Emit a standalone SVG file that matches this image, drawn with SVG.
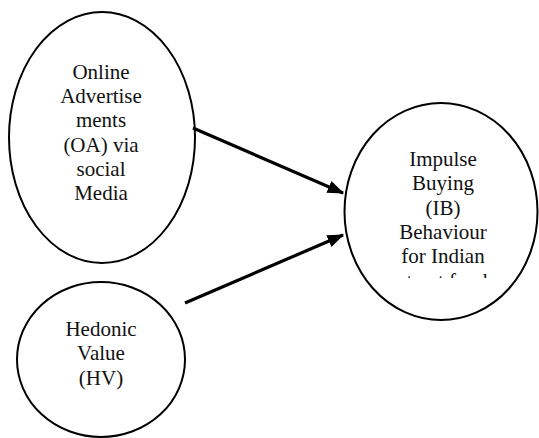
<svg xmlns="http://www.w3.org/2000/svg" width="539" height="438" viewBox="0 0 539 438">
<style>
.node{fill:#fff;stroke:#000;stroke-width:2}
.lbl{font-family:"Liberation Serif","Times New Roman",serif;font-size:21px;fill:#111;text-anchor:middle}
.conn{stroke:#000;stroke-width:3.2;fill:none}
</style>
<defs>
<marker id="ah" markerWidth="5.2" markerHeight="4" refX="4.8" refY="2" orient="auto" markerUnits="strokeWidth">
<path d="M0,0 L5.2,2 L0,4 Z" fill="#000"/>
</marker>
<clipPath id="ibclip"><rect x="340" y="100" width="200" height="178"/></clipPath>
</defs>
<rect width="539" height="438" fill="#fff"/>
<g id="oa">
<ellipse class="node" cx="102" cy="137.5" rx="93" ry="125.5"/>
<text class="lbl"><tspan x="101" y="79">Online</tspan><tspan x="101" y="103">Advertise</tspan><tspan x="101" y="127">ments</tspan><tspan x="101" y="152">(OA) via</tspan><tspan x="101" y="176">social</tspan><tspan x="101" y="200">Media</tspan></text>
</g>
<g id="hv">
<ellipse class="node" cx="101" cy="359.5" rx="84" ry="77.5"/>
<text class="lbl"><tspan x="101" y="336">Hedonic</tspan><tspan x="101" y="360">Value</tspan><tspan x="101" y="385">(HV)</tspan></text>
</g>
<g id="ib">
<ellipse class="node" cx="441" cy="211.5" rx="96.5" ry="108.5"/>
<text class="lbl" clip-path="url(#ibclip)"><tspan x="443" y="166">Impulse</tspan><tspan x="443" y="190">Buying</tspan><tspan x="443" y="215">(IB)</tspan><tspan x="443" y="239">Behaviour</tspan><tspan x="443" y="263">for Indian</tspan><tspan x="443" y="288">street food</tspan></text>
</g>
<g id="connectors">
<line class="conn" x1="193" y1="128" x2="343" y2="193" marker-end="url(#ah)"/>
<line class="conn" x1="185" y1="303" x2="343" y2="235" marker-end="url(#ah)"/>
</g>
</svg>
